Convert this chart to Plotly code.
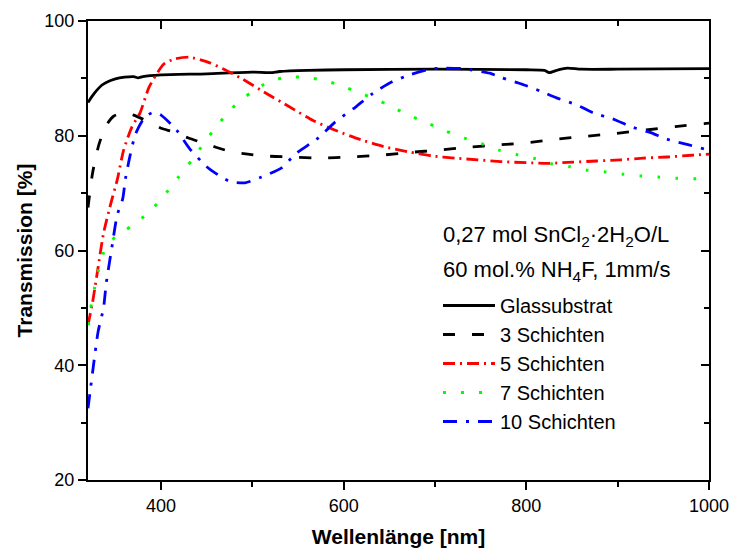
import plotly.graph_objects as go

# ---------------- data ----------------
glass_nm = [320, 325, 330, 335, 340, 350, 360, 370, 375, 380, 400, 450, 500, 520, 530, 560, 600, 700, 800, 820, 825, 835, 845, 860, 900, 1000]
glass_T = [85.8, 87.0, 88.0, 88.8, 89.3, 89.9, 90.2, 90.3, 90.1, 90.3, 90.6, 90.8, 91.1, 91.0, 91.2, 91.4, 91.5, 91.6, 91.5, 91.4, 91.0, 91.5, 91.8, 91.6, 91.6, 91.7]

s3_nm = [320, 325, 332, 340, 348, 360, 370, 380, 400, 413, 430, 445, 460, 477, 495, 510, 541, 575, 607, 640, 673, 704, 736, 770, 802, 833, 865, 898, 931, 963, 995, 1000]
s3_T = [67.5, 73.5, 78.5, 81.8, 83.4, 84.0, 83.6, 82.9, 81.3, 80.7, 79.6, 78.8, 78.0, 77.2, 76.8, 76.5, 76.3, 76.1, 76.3, 76.6, 77.1, 77.5, 78.0, 78.4, 78.8, 79.4, 79.9, 80.4, 81.0, 81.6, 82.1, 82.2]

s5_nm = [320, 325, 331, 337, 345, 352, 359, 368, 377, 387, 403, 415, 431, 452, 470, 488, 515, 541, 566, 590, 619, 644, 671, 696, 722, 747, 772, 800, 825, 851, 877, 903, 928, 954, 981, 1000]
s5_T = [47.0, 51.0, 57.0, 63.0, 68.2, 72.3, 77.5, 81.5, 84.0, 88.5, 92.5, 93.4, 93.7, 92.8, 91.5, 90.0, 87.4, 85.0, 82.7, 81.0, 79.3, 78.1, 77.2, 76.5, 76.1, 75.8, 75.5, 75.3, 75.2, 75.4, 75.6, 75.8, 76.1, 76.3, 76.6, 76.8]

s7_nm = [320, 323, 327, 331, 337, 350, 368, 387, 403, 418, 434, 447, 462, 478, 499, 518, 537, 557, 577, 596, 615, 635, 653, 674, 693, 712, 732, 751, 770, 790, 810, 828, 848, 867, 887, 906, 925, 945, 965, 984, 1000]
s7_T = [47.0, 50.0, 53.3, 56.3, 59.6, 62.4, 64.3, 66.7, 69.5, 72.6, 75.8, 78.7, 81.9, 84.8, 87.6, 89.4, 90.2, 90.2, 89.7, 88.8, 87.6, 86.4, 85.0, 83.4, 82.1, 80.8, 79.6, 78.6, 77.5, 76.7, 76.0, 75.1, 74.6, 74.0, 73.7, 73.3, 73.0, 72.8, 72.6, 72.5, 72.4]

s10_nm = [320, 322, 326, 331, 337, 340, 346, 352, 358, 361, 366, 372, 382, 392, 400, 417, 431, 450, 465, 476, 492, 510, 532, 547, 572, 590, 613, 632, 653, 672, 694, 710, 730, 760, 773, 795, 815, 833, 855, 873, 897, 914, 937, 952, 978, 995, 1000]
s10_T = [32.5, 35.0, 40.0, 45.8, 50.0, 54.3, 60.4, 66.2, 69.0, 72.5, 76.5, 80.3, 83.2, 84.1, 83.6, 81.0, 77.8, 74.6, 72.9, 72.0, 71.8, 72.8, 74.4, 76.8, 79.6, 82.3, 85.0, 87.4, 89.4, 90.6, 91.6, 91.8, 91.7, 90.9, 90.1, 89.0, 87.8, 86.6, 85.4, 84.0, 82.8, 81.6, 80.5, 79.5, 78.4, 77.7, 77.5]

series_names = ["Glassubstrat", "3 Schichten", "5 Schichten", "7 Schichten", "10 Schichten"]

x_ticks = [400, 600, 800, 1000]
y_ticks = [20, 40, 60, 80, 100]

# ---------------- styles ----------------
styles = [
    dict(color="black", width=2.8, dash="solid"),
    dict(color="black", width=2.8, dash="12px,17px"),
    dict(color="#ff0000", width=2.8, dash="12px,5px,2px,5px"),
    dict(color="#00ff00", width=3, dash="3px,15px"),
    dict(color="#0000ff", width=2.8, dash="14px,9px,3px,9px"),
]

FONT = "Arial, Liberation Sans, sans-serif"

fig = go.Figure()
all_data = [(glass_nm, glass_T), (s3_nm, s3_T), (s5_nm, s5_T), (s7_nm, s7_T), (s10_nm, s10_T)]
for i, ((xs, ys), name) in enumerate(zip(all_data, series_names)):
    fig.add_trace(go.Scatter(
        x=xs, y=ys, name=name, mode="lines",
        line=dict(shape="spline", smoothing=0.6, **styles[i]),
        legendgroup=f"g{i}",
    ))

W, H = 731, 548
ml, mr, mt, mb = 88, 22, 21, 68
ph = H - mt - mb
pw = W - ml - mr

def py(p):
    return (H - mb - p) / ph

def px(p):
    return (p - ml) / pw

axis_common = dict(showgrid=False, zeroline=False, showline=True, linecolor="black", linewidth=2,
                   tickcolor="black", tickwidth=2, ticklen=8, automargin=False,
                   tickfont=dict(family=FONT, size=18, color="black"))

fig.update_layout(
    width=W, height=H,
    margin=dict(l=ml, r=mr, t=mt, b=mb),
    plot_bgcolor="white", paper_bgcolor="white",
    font=dict(family=FONT, color="black"),
    xaxis=dict(range=[320, 1000], tickvals=x_ticks, ticks="outside",
               minor=dict(ticks="outside", ticklen=5, tickwidth=2, tickcolor="black", dtick=100, tick0=0),
               title=dict(text="<b>Wellenlänge [nm]</b>", font=dict(family=FONT, size=21), standoff=20),
               **axis_common),
    yaxis=dict(range=[20, 100], tickvals=y_ticks, ticks="outside",
               minor=dict(ticks="outside", ticklen=5, tickwidth=2, tickcolor="black", dtick=10, tick0=0),
               title=dict(text="<b>Transmission [%]</b>", font=dict(family=FONT, size=21), standoff=6),
               **axis_common),
    xaxis2=dict(overlaying="x", side="top", matches="x", range=[320, 1000], tickvals=x_ticks,
                ticks="inside", showticklabels=False,
                minor=dict(ticks="inside", ticklen=5, tickwidth=2, tickcolor="black", dtick=100, tick0=0),
                **axis_common),
    yaxis2=dict(overlaying="y", side="right", matches="y", range=[20, 100], tickvals=y_ticks,
                ticks="inside", showticklabels=False,
                minor=dict(ticks="inside", ticklen=5, tickwidth=2, tickcolor="black", dtick=10, tick0=0),
                **axis_common),
    showlegend=True,
    legend=dict(x=px(443 - 5), y=py(286), xanchor="left", yanchor="top",
                bgcolor="rgba(0,0,0,0)", font=dict(family=FONT, size=20, color="black"),
                tracegroupgap=0, itemwidth=52, traceorder="normal"),
    annotations=[
        dict(text="0,27 mol SnCl<sub>2</sub>·2H<sub>2</sub>O/L", xref="paper", yref="paper",
             x=px(441), y=py(236), xanchor="left", yanchor="middle",
             showarrow=False, font=dict(family=FONT, size=22, color="black")),
        dict(text="60 mol.% NH<sub>4</sub>F, 1mm/s", xref="paper", yref="paper",
             x=px(441), y=py(271), xanchor="left", yanchor="middle",
             showarrow=False, font=dict(family=FONT, size=22, color="black")),
    ],
)
# invisible trace to activate the mirrored axes
fig.add_trace(go.Scatter(x=[320], y=[20], xaxis="x2", yaxis="y2", mode="markers",
                         marker=dict(opacity=0), showlegend=False, hoverinfo="skip"))

fig.write_html("out.html")
